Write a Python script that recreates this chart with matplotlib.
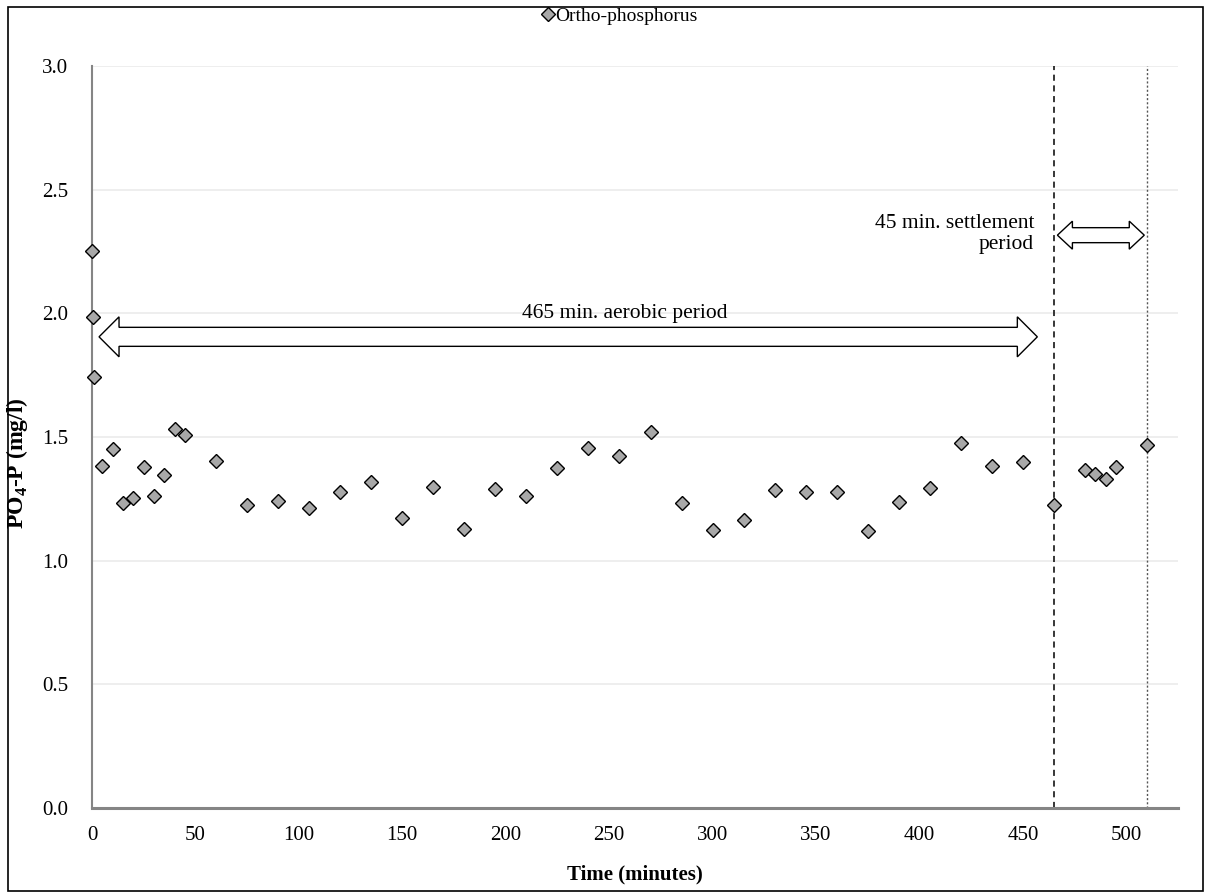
import matplotlib
matplotlib.use("Agg")
import matplotlib.pyplot as plt
from matplotlib.patches import Polygon, Rectangle
from matplotlib.transforms import IdentityTransform

# -----------------------------
# Dane
# -----------------------------
time_min = [0, 0.5, 1, 5, 10, 15, 20, 25, 30, 35, 40, 45, 60, 75, 90, 105, 120,
            135, 150, 165, 180, 195, 210, 225, 240, 255, 270, 285, 300, 315,
            330, 345, 360, 375, 390, 405, 420, 435, 450, 465, 480, 485, 490,
            495, 510]
ortho_p = [2.253, 1.986, 1.743, 1.382, 1.451, 1.233, 1.254, 1.377, 1.261, 1.345,
           1.533, 1.510, 1.404, 1.227, 1.241, 1.213, 1.279, 1.319, 1.172, 1.299,
           1.128, 1.288, 1.262, 1.373, 1.454, 1.424, 1.521, 1.234, 1.122, 1.165,
           1.287, 1.277, 1.276, 1.120, 1.238, 1.293, 1.475, 1.382, 1.397, 1.226,
           1.365, 1.350, 1.331, 1.378, 1.467]

aerobic_end = 465      # koniec fazy tlenowej
settle_end = 510       # koniec sedymentacji
aerobic_arrow = (3.4, 457, 1.905)
settle_arrow = (466.7, 508.7, 2.316)

x_ticks = [0, 50, 100, 150, 200, 250, 300, 350, 400, 450, 500]
y_ticks = [0.0, 0.5, 1.0, 1.5, 2.0, 2.5, 3.0]

plt.rcParams['font.family'] = ['Liberation Serif', 'DejaVu Serif']


def block_arrow(ax, x0, x1, y, shaft_px, head_px, head_len_px):
    (px0, py), (px1, _) = ax.transData.transform([(x0, y), (x1, y)])
    hs, hh, hl = shaft_px / 2, head_px / 2, head_len_px
    verts = [(px0, py), (px0 + hl, py + hh), (px0 + hl, py + hs),
             (px1 - hl, py + hs), (px1 - hl, py + hh), (px1, py),
             (px1 - hl, py - hh), (px1 - hl, py - hs), (px0 + hl, py - hs),
             (px0 + hl, py - hh)]
    ax.add_patch(Polygon(verts, closed=True, transform=IdentityTransform(),
                         facecolor='white', edgecolor='black', lw=1.0,
                         zorder=4))


# -----------------------------
# Rysowanie wykresu
# -----------------------------
fig = plt.figure(figsize=(12.05, 8.94), dpi=100)
ax = fig.add_axes([92 / 1205, 1 - 808 / 894, (1178 - 92) / 1205, (808 - 66) / 894])

ax.set_xlim(0, 525)
ax.set_ylim(0, 3.0)
ax.set_xticks(x_ticks)
ax.set_yticks(y_ticks)
ax.set_yticklabels([f"{v:.1f}" for v in y_ticks])
ax.tick_params(axis='both', length=0, labelsize=15)
ax.tick_params(axis='x', pad=13)
ax.tick_params(axis='y', pad=17)

for s in ['top', 'right']:
    ax.spines[s].set_visible(False)
ax.spines['left'].set_color('#858585')
ax.spines['left'].set_linewidth(1.5)
ax.spines['bottom'].set_color('#858585')
ax.spines['bottom'].set_linewidth(2.2)

for v in y_ticks[1:]:
    ax.axhline(v, color='#ebebeb', lw=1.2, zorder=0)

ax.axvline(aerobic_end, color='black', lw=1.1, ls=(0, (4, 3)), zorder=2)
ax.axvline(settle_end, color='#555555', lw=1.0, ls=(0, (1.5, 1.5)), zorder=2)

ax.plot(time_min, ortho_p, ls='none', marker='D', markersize=7,
        markerfacecolor='#a8a8a8', markeredgecolor='black',
        markeredgewidth=1.0, label='Ortho-phosphorus', zorder=5, clip_on=False)

block_arrow(ax, aerobic_arrow[0], aerobic_arrow[1], aerobic_arrow[2], 19, 40, 20)
block_arrow(ax, settle_arrow[0], settle_arrow[1], settle_arrow[2], 15, 28, 15)

ax.text(257.5, 2.0, "465 min. aerobic period", ha='center', va='center',
        fontsize=15.5)
ax.text(455.5, 2.32, "45 min. settlement\nperiod", ha='right', va='center',
        multialignment='right', fontsize=15.5, linespacing=1.12)

ax.set_xlabel("Time (minutes)", fontsize=15, fontweight='bold', labelpad=14)
ax.set_ylabel("PO$_\\mathregular{4}$-P (mg/l)", fontsize=17, fontweight='bold')
ax.yaxis.set_label_coords(-0.057, 0.465)

fig.legend(loc='center', bbox_to_anchor=(620 / 1205, 1 - 16 / 894),
           frameon=False, fontsize=14, handlelength=0.6, handletextpad=0.1,
           markerscale=0.95)

fig.patches.append(Rectangle((8 / 1205, 1 - 891 / 894), 1195 / 1205, 884 / 894,
                             transform=fig.transFigure, fill=False,
                             edgecolor='black', lw=1.2))

fig.savefig("out.png", dpi=100)
